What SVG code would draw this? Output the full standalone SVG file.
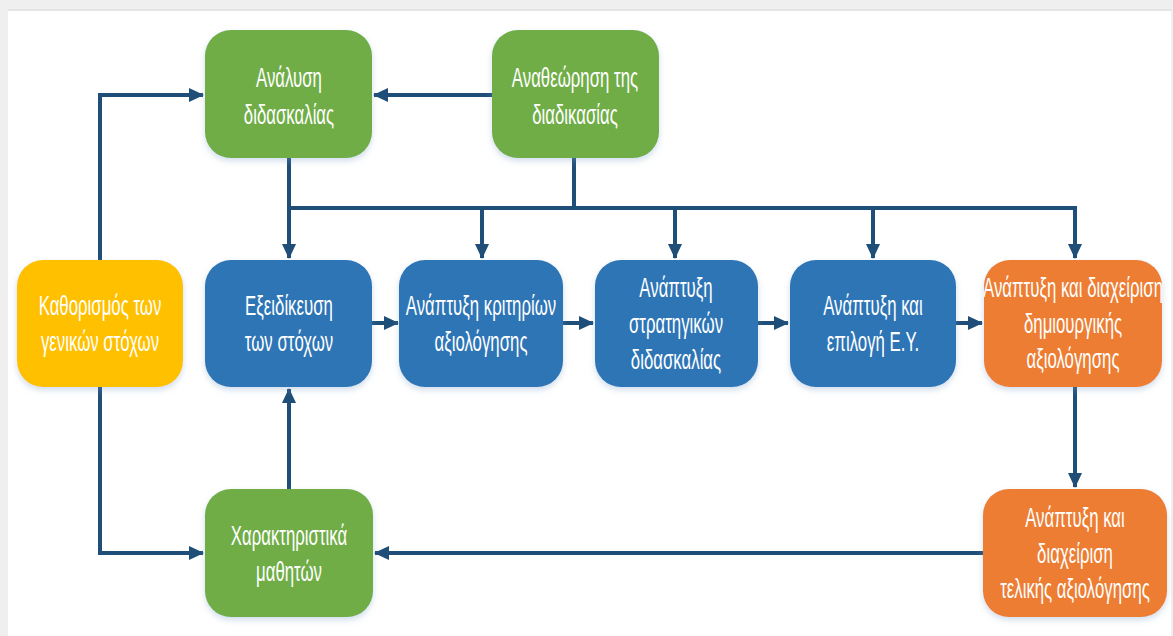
<svg xmlns="http://www.w3.org/2000/svg" width="1173" height="636" viewBox="0 0 1173 636">
<style>
.box{stroke:none;filter:url(#sh)}
.g{fill:#70AD47}.b{fill:#2E75B6}.y{fill:#FFC000}.o{fill:#ED7D31}
.t{font-family:"Liberation Sans",Arial,sans-serif;font-size:28px;fill:#FFFFFF;text-anchor:middle}
.c{fill:none;stroke:#1F4E79;stroke-width:4}
</style>
<defs>
<marker id="ah" markerUnits="userSpaceOnUse" markerWidth="16" markerHeight="16" refX="14" refY="8" orient="auto">
<path d="M0,1 L15,8 L0,15 Z" fill="#1F4E79"/>
</marker>
<filter id="sh" x="-10%" y="-10%" width="120%" height="130%">
<feDropShadow dx="0" dy="3" stdDeviation="3" flood-color="#7a9cc6" flood-opacity="0.35"/>
</filter>
</defs>
<rect x="0" y="0" width="1173" height="636" fill="#efefef"/>
<rect x="8" y="11" width="1163" height="625" fill="#FFFFFF"/>
<line x1="8" y1="10" x2="1171" y2="10" stroke="#e2e2e2" stroke-width="1.5"/>

<g id="connectors">
<path class="c" d="M100,260 V95 H203" marker-end="url(#ah)"/>
<path class="c" d="M100,387 V553 H203" marker-end="url(#ah)"/>
<path class="c" d="M492,95 H374" marker-end="url(#ah)"/>
<path class="c" d="M289,158 V258" marker-end="url(#ah)"/>
<path class="c" d="M289,208 H1075 V258" marker-end="url(#ah)"/>
<path class="c" d="M574,158 V208"/>
<path class="c" d="M482,208 V258" marker-end="url(#ah)"/>
<path class="c" d="M675,208 V258" marker-end="url(#ah)"/>
<path class="c" d="M873,208 V258" marker-end="url(#ah)"/>
<path class="c" d="M372,323 H398" marker-end="url(#ah)"/>
<path class="c" d="M563,323 H593" marker-end="url(#ah)"/>
<path class="c" d="M758,323 H788" marker-end="url(#ah)"/>
<path class="c" d="M956,323 H982" marker-end="url(#ah)"/>
<path class="c" d="M1075,387 V487" marker-end="url(#ah)"/>
<path class="c" d="M983,553 H375" marker-end="url(#ah)"/>
<path class="c" d="M289,489 V389" marker-end="url(#ah)"/>
</g>

<g id="n-analysi">
<rect class="box g" x="205" y="30" width="167" height="128" rx="26"/>
<text class="t" transform="translate(289,87) scale(0.6,1)">Ανάλυση</text>
<text class="t" transform="translate(289,124) scale(0.6,1)">διδασκαλίας</text>
</g>
<g id="n-anatheorisi">
<rect class="box g" x="492" y="30" width="167" height="128" rx="26"/>
<text class="t" transform="translate(575,87) scale(0.6,1)">Αναθεώρηση της</text>
<text class="t" transform="translate(575,124) scale(0.6,1)">διαδικασίας</text>
</g>
<g id="n-kathorismos">
<rect class="box y" x="17" y="260" width="166" height="127" rx="26"/>
<text class="t" transform="translate(100,315) scale(0.6,1)">Καθορισμός των</text>
<text class="t" transform="translate(100,351) scale(0.6,1)">γενικών στόχων</text>
</g>
<g id="n-exeidikeusi">
<rect class="box b" x="205" y="260" width="167" height="127" rx="26"/>
<text class="t" transform="translate(289,315) scale(0.6,1)">Εξειδίκευση</text>
<text class="t" transform="translate(289,351) scale(0.6,1)">των στόχων</text>
</g>
<g id="n-kritiria">
<rect class="box b" x="399" y="260" width="164" height="127" rx="26"/>
<text class="t" transform="translate(481,315) scale(0.6,1)">Ανάπτυξη κριτηρίων</text>
<text class="t" transform="translate(481,351) scale(0.6,1)">αξιολόγησης</text>
</g>
<g id="n-stratigikes">
<rect class="box b" x="595" y="260" width="163" height="127" rx="26"/>
<text class="t" transform="translate(676,297) scale(0.6,1)">Ανάπτυξη</text>
<text class="t" transform="translate(676,333) scale(0.6,1)">στρατηγικών</text>
<text class="t" transform="translate(676,369) scale(0.6,1)">διδασκαλίας</text>
</g>
<g id="n-ey">
<rect class="box b" x="790" y="260" width="166" height="127" rx="26"/>
<text class="t" transform="translate(873,315) scale(0.6,1)">Ανάπτυξη και</text>
<text class="t" transform="translate(873,351) scale(0.6,1)">επιλογή Ε.Υ.</text>
</g>
<g id="n-dimiourgiki">
<rect class="box o" x="984" y="260" width="178" height="127" rx="26"/>
<text class="t" transform="translate(1073,297) scale(0.6,1)">Ανάπτυξη και διαχείριση</text>
<text class="t" transform="translate(1073,333) scale(0.6,1)">δημιουργικής</text>
<text class="t" transform="translate(1073,368) scale(0.6,1)">αξιολόγησης</text>
</g>
<g id="n-charaktiristika">
<rect class="box g" x="205" y="489" width="168" height="128" rx="26"/>
<text class="t" transform="translate(289,545) scale(0.6,1)">Χαρακτηριστικά</text>
<text class="t" transform="translate(289,581) scale(0.6,1)">μαθητών</text>
</g>
<g id="n-teliki">
<rect class="box o" x="983" y="489" width="184" height="128" rx="26"/>
<text class="t" transform="translate(1075,527) scale(0.6,1)">Ανάπτυξη και</text>
<text class="t" transform="translate(1075,563) scale(0.6,1)">διαχείριση</text>
<text class="t" transform="translate(1075,598) scale(0.6,1)">τελικής αξιολόγησης</text>
</g>
</svg>
